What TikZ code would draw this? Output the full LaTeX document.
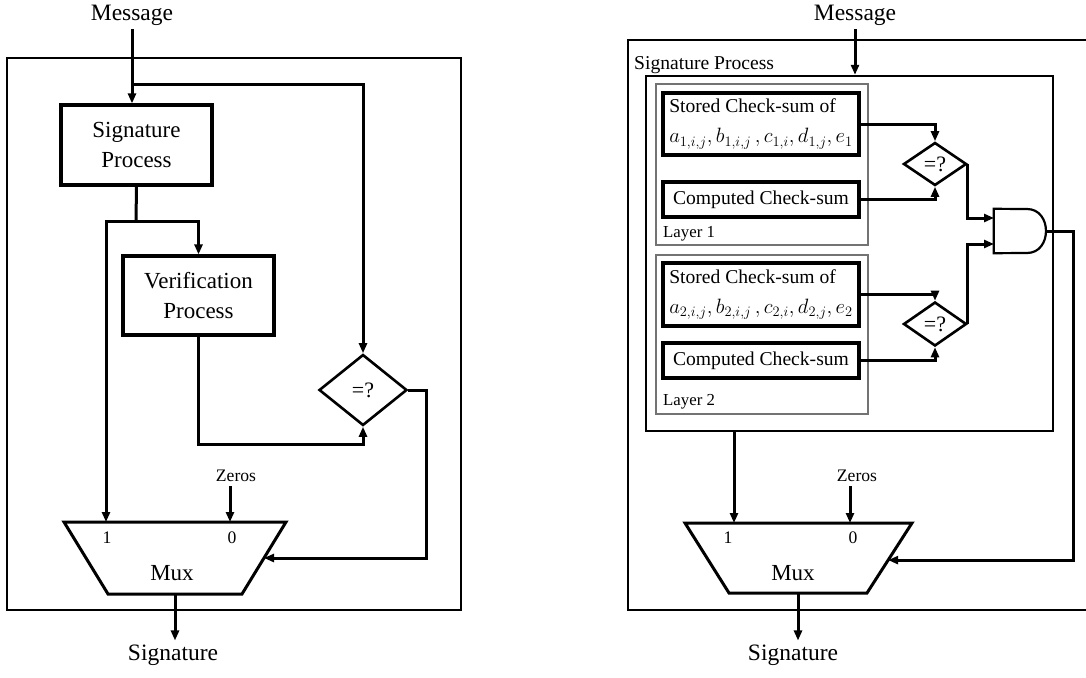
\documentclass[tikz,border=0pt]{standalone}
\usepackage{fontspec}
\setmainfont{Liberation Serif}
\usetikzlibrary{arrows.meta,shapes.geometric,calc}
\begin{document}
\begin{tikzpicture}[x=1pt,y=-1pt,
  wire/.style={line width=3pt},
  arr/.style={wire,-{Triangle[length=10pt,width=8pt]}},
  frame/.style={draw,line width=1.8pt,inner sep=0pt},
  blkL/.style={draw,line width=3.2pt,align=center,font=\fontsize{23}{30}\selectfont,
    minimum width=151pt,minimum height=80pt,inner sep=0pt},
  blkR/.style={draw,line width=3.4pt,align=left,font=\fontsize{19.6}{30}\selectfont,
    minimum width=196pt,inner sep=0pt,minimum height=35pt},
  cmp/.style={diamond,draw,line width=2.6pt,inner sep=0pt,font=\fontsize{22}{24}\selectfont},
  big/.style={font=\fontsize{23.5}{28}\selectfont,inner sep=4pt},
  small/.style={font=\fontsize{17.6}{20}\selectfont,inner sep=4pt},
  lay/.style={draw=black!55,line width=1.1pt,inner sep=0pt,minimum width=212pt},
  laylab/.style={anchor=west,inner sep=0pt,font=\fontsize{16.8}{20}\selectfont},
  muxline/.style={line width=3pt,line join=miter},
  gate/.style={line width=2.2pt}]
\useasboundingbox (0,0) rectangle (1086,677);
\clip (0,0) rectangle (1086,677);

% ================= LEFT =================
\node[big] (msgL) at (132,15) {Message};
\node[frame,minimum width=454pt,minimum height=552pt] (outerL) at (234,334) {};
\node[blkL] (sigL) at (136.5,145) {Signature\\Process};
\node[blkL,minimum height=79pt] (verL) at (198.5,295.5) {Verification\\Process};
\node[cmp,minimum width=88pt,minimum height=71pt] (eqL) at (363,390) {=?};
\coordinate (mLtl) at (64,522);
\coordinate (mLtr) at (286,522);
\coordinate (mLbr) at (242,594);
\coordinate (mLbl) at (108,594);
\draw[muxline] (mLtl) -- (mLtr) -- (mLbr) -- (mLbl) -- cycle;
\node[small] (oneL) at (107,538) {1};
\node[small] (zeroL) at (232,538) {0};
\node[big,font=\fontsize{23}{28}\selectfont] (muxL) at (172,573) {Mux};
\node[small] (zerosL) at (236,476) {Zeros};
\node[big] (sigOutL) at (173,655) {Signature};
\coordinate (jL) at (132,84);
\coordinate (spL) at (136,221);
\coordinate (in1L) at (106,522);
\coordinate (in0L) at (230,522);
\coordinate (sideL) at ($(mLtr)!0.5!(mLbr)$);
\coordinate (outL) at (175,594);

\draw[arr] (msgL.south) -- (msgL.south |- sigL.north);
\draw[arr] (jL) -| (eqL.north);
\draw[wire] (sigL.south) -- (spL);
\draw[arr] (spL) -| (verL.north);
\draw[arr] (spL) -| (in1L);
\draw[arr] (verL.south) -- ++(0,108) -| (eqL.south);
\draw[arr] (eqL.east) -- ++(18,0) |- (sideL);
\draw[arr] (in0L |- zerosL.south) -- (in0L);
\draw[arr] (outL) -- (outL |- sigOutL.north);

% ================= RIGHT =================
\node[big] (msgR) at (855,15) {Message};
\node[frame,minimum width=482pt,minimum height=570pt] (outerR) at (869,325) {};
\node[anchor=west,inner sep=0pt,font=\fontsize{19.6}{24}\selectfont] (spLab) at (634,65) {Signature Process};
\node[draw,line width=2.4pt,inner sep=0pt,minimum width=407pt,minimum height=355pt] (innerR) at (849.5,253.5) {};

\node[lay,minimum height=161pt] (lay1) at (762,164.5) {};
\node[laylab] (lay1lab) at (663,234) {Layer 1};
\node[blkR,minimum height=62pt] (st1) at (761,124) {Stored Check-sum of\\$a_{1,i,j}, b_{1,i,j}\,, c_{1,i}, d_{1,j}, e_1$};
\node[blkR] (cp1) at (761,199.5) {Computed Check-sum};
\node[cmp,minimum width=63pt,minimum height=43pt] (eq1) at (935,164) {=?};

\node[lay,minimum height=159pt] (lay2) at (762,334.5) {};
\node[laylab] (lay2lab) at (663,402) {Layer 2};
\node[blkR,minimum height=63pt] (st2) at (761,294.5) {Stored Check-sum of\\$a_{2,i,j}, b_{2,i,j}\,, c_{2,i}, d_{2,j}, e_2$};
\node[blkR] (cp2) at (761,360.5) {Computed Check-sum};
\node[cmp,minimum width=63pt,minimum height=44pt] (eq2) at (935,324) {=?};

\node[inner sep=0pt,minimum width=52pt,minimum height=44pt] (and1) at (1020,231) {};
\draw[gate] (and1.north west) -- (1027,209) .. controls (1052.3,209) and (1052.3,253) .. (1027,253) -- (and1.south west) -- cycle;
\coordinate (a1in1) at (994,218);
\coordinate (a1in2) at (994,244);
\coordinate (a1out) at (1046,231);
\coordinate (a1bend) at (1073,231);

\coordinate (mRtl) at (685,523);
\coordinate (mRtr) at (912,523);
\coordinate (mRbr) at (867,593);
\coordinate (mRbl) at (729,593);
\draw[muxline] (mRtl) -- (mRtr) -- (mRbr) -- (mRbl) -- cycle;
\node[small] (oneR) at (728,538) {1};
\node[small] (zeroR) at (853,538) {0};
\node[big,font=\fontsize{23}{28}\selectfont] (muxR) at (793,573) {Mux};
\node[small] (zerosR) at (857,476) {Zeros};
\node[big] (sigOutR) at (793,655) {Signature};
\coordinate (in1R) at (734,523);
\coordinate (in0R) at (850,523);
\coordinate (sideR) at ($(mRtr)!0.53!(mRbr)$);
\coordinate (outR) at (798,593);

\draw[arr] (msgR.south) -- (msgR.south |- innerR.north);
\draw[arr] (st1.east) -| (eq1.north);
\draw[arr] (cp1.east) -| (eq1.south);
\draw[arr] (st2.east) -| (eq2.north);
\draw[arr] (cp2.east) -| (eq2.south);
\draw[arr] (eq1.east) |- (a1in1);
\draw[arr] (eq2.east) |- (a1in2);
\draw[arr] (a1out) -- (a1bend) |- (sideR);
\draw[arr] (in1R |- innerR.south) -- (in1R);
\draw[arr] (in0R |- zerosR.south) -- (in0R);
\draw[arr] (outR) -- (outR |- sigOutR.north);
\end{tikzpicture}
\end{document}
